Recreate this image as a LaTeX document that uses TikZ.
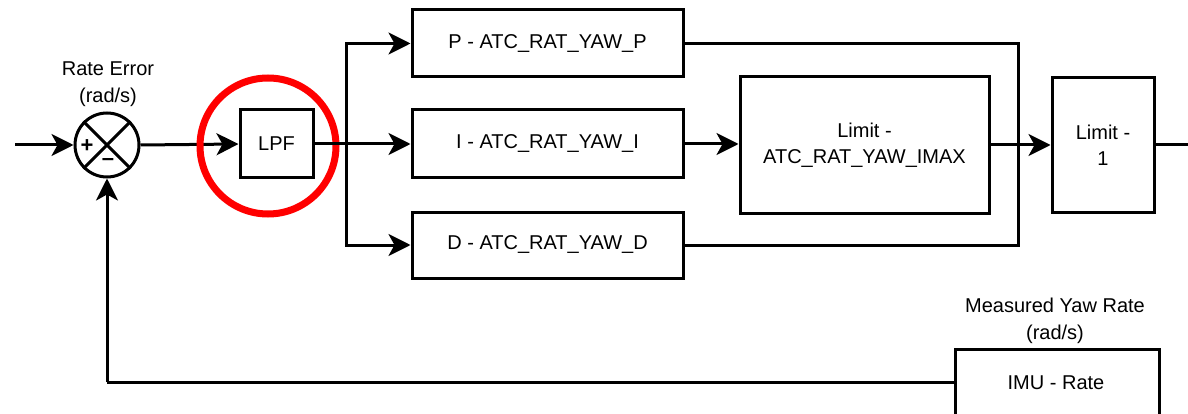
\documentclass[tikz,border=0pt]{standalone}
\usepackage{fontspec}
\setmainfont{Liberation Sans}
\usetikzlibrary{arrows.meta}
\begin{document}
\begin{tikzpicture}[x=1pt,y=-1pt,
  blk/.style={draw,line width=3pt,align=center,inner sep=0pt,font=\fontsize{20}{26}\selectfont},
  lbl/.style={align=center,inner sep=0pt,font=\fontsize{20}{27}\selectfont},
  wire/.style={line width=3pt},
  arr/.style={wire,-{Stealth[length=22pt,width=22pt,inset=6pt]}}]
\useasboundingbox (0,0) rectangle (1188,414);
\clip (0,0) rectangle (1188,414);
% sum junction
\node[draw,circle,line width=3pt,minimum size=64pt,inner sep=0pt] (sum) at (107,145) {};
\draw[wire] (sum.north west) -- (sum.south east) (sum.north east) -- (sum.south west);
\node[inner sep=0pt,font=\fontsize{22}{22}\selectfont\bfseries] (plus) at (87,146) {+};
\node[inner sep=0pt,font=\fontsize{22}{22}\selectfont\bfseries] (minus) at (108,162) {--};
\node[lbl] (relbl) at (108,84) {Rate Error\\(rad/s)};
\coordinate (in) at (15,145);
\draw[arr] (in) -- (sum.west);
% LPF
\node[blk,minimum width=73pt,minimum height=68pt] (lpf) at (276.5,144) {LPF};
\draw[arr] (sum.east) -- (lpf.west);
\draw[red,line width=7pt] (268,146) circle (68);
% PID boxes
\node[blk,minimum width=271pt,minimum height=67pt] (p) at (547.5,43.5) {P - ATC\_RAT\_YAW\_P};
\node[blk,minimum width=271pt,minimum height=68pt] (i) at (547.5,144) {I - ATC\_RAT\_YAW\_I};
\node[blk,minimum width=271pt,minimum height=66pt] (d) at (547.5,245) {D - ATC\_RAT\_YAW\_D};
\coordinate (br) at (346,144);
\draw[wire] (lpf.east) -- (br);
\draw[arr] (br) -- (i.west);
\draw[arr] (br) |- (p.west);
\draw[arr] (br) |- (d.west);
% Limit IMAX
\node[blk,minimum width=249pt,minimum height=136pt] (imax) at (864.5,145) {Limit -\\ATC\_RAT\_YAW\_IMAX};
\draw[arr] (i.east) -- (i.east -| imax.west);
% sum bus
\coordinate (bus) at (1018,145);
\draw[wire] (p.east) -| (bus) |- (d.east);
% Limit 1
\node[blk,minimum width=102pt,minimum height=134pt] (lim) at (1103,145) {Limit -\\1};
\draw[arr] (imax.east) -- (lim.west);
\coordinate (out) at (1188,145);
\draw[wire] (lim.east) -- (out);
% IMU
\node[blk,minimum width=204pt,minimum height=70pt,anchor=north west] (imu) at (954,348) {};
\node[font=\fontsize{20}{24}\selectfont,inner sep=0pt] (imut) at (1056,383) {IMU - Rate};
\node[lbl] (mlbl) at (1055,321) {Measured Yaw Rate\\(rad/s)};
\coordinate (fb) at (107,382);
\draw[wire] (imu.west |- 0,382) -- (fb);
\draw[arr] (fb) -- (sum.south);
\end{tikzpicture}
\end{document}
